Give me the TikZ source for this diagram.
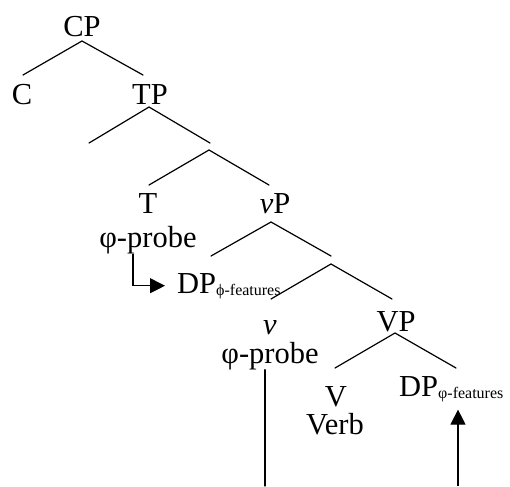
\documentclass[tikz,border=0pt]{standalone}
\usepackage{fontspec}
\setmainfont{Liberation Serif}
\usetikzlibrary{arrows.meta}
\tikzset{
  lbl/.style={inner sep=0pt, anchor=base, font=\fontsize{30.5}{32}\selectfont},
  lblw/.style={lbl, anchor=base west},
  branch/.style={line width=1.2pt, line cap=round},
  probe/.style={line width=1.2pt, -{Triangle[length=15pt,width=15pt]}},
}
\newcommand{\feat}[1]{\raisebox{-2pt}{\fontsize{16}{17}\selectfont #1}}
\begin{document}
\begin{tikzpicture}[x=1pt,y=-1pt]
\useasboundingbox (0,0) rectangle (510,486);

% labels
\node[lbl] (cp) at (82,37) {CP};
\node[lbl] (c) at (22,105) {C};
\node[lbl] (tp) at (150,105) {TP};
\node[lbl] (t) at (148,213) {T};
\node[lbl] (tprobe) at (148,247) {φ-probe};
\node[lbl] (vp) at (275,213) {\textit{v}P};
\node[lblw] (dpa) at (177,293) {DP\feat{ϕ-features}};
\node[lbl] (v) at (270,334) {\textit{v}};
\node[lbl] (vprobe) at (270,363) {φ-probe};
\node[lbl] (bigvp) at (396,331) {VP};
\node[lbl] (bigv) at (336,406) {V};
\node[lbl] (verb) at (335,434) {Verb};
\node[lblw] (dpb) at (399,396) {DP\feat{φ-features}};

% branch points
\coordinate (cp-t) at (82,41);   \coordinate (cp-l) at (23,75);   \coordinate (cp-r) at (143,75);
\coordinate (tp-t) at (149,107); \coordinate (tp-l) at (89,143);  \coordinate (tp-r) at (210,143);
\coordinate (tb-t) at (209,150); \coordinate (tb-l) at (149,185); \coordinate (tb-r) at (269,185);
\coordinate (vp-t) at (271,222); \coordinate (vp-l) at (211,256); \coordinate (vp-r) at (331,256);
\coordinate (vb-t) at (331,264); \coordinate (vb-l) at (271,299); \coordinate (vb-r) at (392,299);
\coordinate (VP-t) at (395,333); \coordinate (VP-l) at (335,368); \coordinate (VP-r) at (456,368);

% tree branches
\foreach \n in {cp,tp,tb,vp,vb,VP}
  \draw[branch] (\n-l) -- (\n-t) -- (\n-r);

% agreement paths
\coordinate (vbot) at (265,486);
\coordinate (dbot) at (458,486);
\draw[branch] (vbot |- vprobe.south) -- (vbot);
\draw[probe] ([xshift=-15pt]tprobe.south) |- ([xshift=-12pt]dpa.west);
\draw[probe] (dbot) -- ([yshift=-8pt]dpb.south -| dbot);
\end{tikzpicture}
\end{document}
